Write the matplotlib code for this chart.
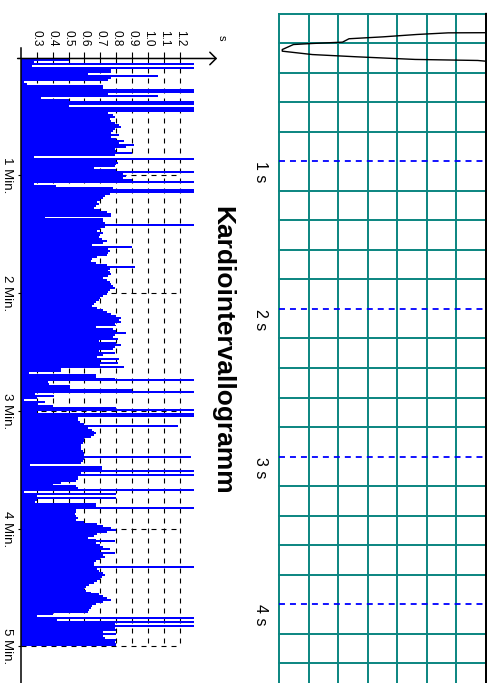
import matplotlib
matplotlib.use("Agg")
import matplotlib.pyplot as plt
import numpy as np

plt.rcParams['font.family'] = ['Liberation Sans', 'DejaVu Sans']
plt.rcParams['lines.scale_dashes'] = False

# --- Kardiointervallogramm data: RR interval (s) for each second of the 5 min record
rr_values = [
    0.50, 0.50, 0.28, 1.29, 0.27, 1.29, 0.77, 0.77, 0.62, 1.06,
    0.77, 0.75, 0.22, 0.24, 0.72, 0.72, 1.29, 1.29, 0.75, 1.06,
    0.33, 0.50, 1.29, 1.29, 0.50, 1.29, 1.29, 1.29, 0.75, 0.78,
    0.79, 0.76, 0.77, 0.79, 0.82, 0.83, 0.79, 0.78, 0.77, 0.82,
    0.77, 0.80, 0.85, 0.82, 0.91, 0.86, 0.79, 0.80, 0.90, 0.79,
    0.28, 1.29, 0.80, 0.81, 0.80, 0.79, 0.66, 0.80, 1.29, 0.84,
    0.86, 0.84, 0.90, 1.29, 0.28, 0.42, 0.78, 1.29, 1.29, 0.76,
    0.73, 0.72, 0.70, 0.68, 0.69, 0.67, 0.66, 0.70, 0.74, 0.77,
    0.77, 0.35, 0.72, 0.72, 0.73, 1.29, 0.73, 0.70, 0.68, 0.72,
    0.70, 0.69, 0.71, 0.74, 0.72, 0.65, 0.90, 0.75, 0.76, 0.75,
    0.74, 0.68, 0.65, 0.64, 0.67, 0.74, 0.92, 0.76, 0.75, 0.76,
    0.77, 0.75, 0.72, 0.74, 0.76, 0.77, 0.78, 0.79, 0.76, 0.75,
    0.74, 0.72, 0.70, 0.69, 0.67, 0.66, 0.65, 0.68, 0.72, 0.74,
    0.77, 0.80, 0.83, 0.82, 0.83, 0.79, 0.80, 0.67, 0.78, 0.80,
    0.86, 0.79, 0.78, 0.81, 0.69, 0.80, 0.83, 0.79, 0.78, 0.69,
    0.79, 0.72, 0.68, 0.82, 0.70, 0.81, 0.70, 0.85, 0.45, 0.45,
    0.25, 0.67, 0.67, 0.79, 1.29, 0.37, 0.38, 0.51, 0.51, 0.90,
    1.29, 0.29, 0.41, 0.30, 0.22, 0.35, 0.31, 0.40, 0.80, 1.29,
    0.30, 1.29, 1.29, 0.56, 0.56, 0.57, 0.60, 1.19, 0.62, 0.65,
    0.66, 0.67, 0.66, 0.64, 0.60, 0.60, 0.59, 0.58, 0.58, 0.58,
    0.59, 0.60, 0.60, 1.27, 0.60, 0.59, 0.58, 0.26, 0.71, 0.71,
    1.29, 0.58, 1.29, 0.56, 0.56, 0.55, 0.45, 0.40, 0.55, 0.56,
    1.29, 0.22, 0.80, 0.30, 0.80, 0.30, 0.29, 0.67, 0.67, 1.29,
    0.55, 0.55, 0.54, 0.55, 0.56, 0.55, 0.60, 0.68, 0.72, 0.77,
    0.80, 0.74, 0.68, 0.66, 0.62, 0.67, 0.79, 0.67, 0.70, 0.72,
    0.76, 0.70, 0.79, 0.72, 0.73, 0.70, 0.67, 0.66, 0.66, 1.29,
    0.68, 0.69, 0.72, 0.73, 0.71, 0.70, 0.68, 0.66, 0.63, 0.61,
    0.60, 0.61, 0.64, 0.69, 0.72, 0.74, 0.77, 0.72, 0.67, 0.65,
    0.64, 0.63, 0.62, 0.40, 0.30, 1.29, 0.43, 1.29, 0.79, 1.29,
    0.79, 0.80, 0.72, 0.80, 0.72, 0.73, 0.80, 0.79, 0.80, 0.80,
]
value_ticks = [0.3, 0.4, 0.5, 0.6, 0.7, 0.8, 0.9, 1.0, 1.1, 1.2]
value_labels = ['0.3', '0.4', '0.5', '0.6', '0.7', '0.8', '0.9', '1.0', '1.1', '1.2']
minute_ticks = [1, 2, 3, 4, 5]
minute_labels = ['1 Min.', '2 Min.', '3 Min.', '4 Min.', '5 Min.']
title = 'Kardiointervallogramm'

# --- ECG strip: time (s) and amplitude (mV)
ecg_time = [0.0, 0.130, 0.131, 0.142, 0.158, 0.171, 0.194, 0.203, 0.210, 0.244,
            0.255, 0.278, 0.293, 0.311, 0.318, 0.323, 4.6]
ecg_mv = [0.0, 0.0, -0.64, -1.17, -1.74, -2.32, -2.43, -2.94, -3.26, -3.45,
          -3.45, -2.94, -2.20, -1.20, -0.14, 0.0, 0.0]
second_marks = [1, 2, 3, 4]
second_labels = ['1 s', '2 s', '3 s', '4 s']

W, H = 496, 683
fig = plt.figure(figsize=(W / 100, H / 100), dpi=100)


def frac(left, top, right, bottom):
    # pixel box -> figure fraction
    return [left / W, 1 - bottom / H, (right - left) / W, (bottom - top) / H]


# ---------------- Kardiointervallogramm (drawn rotated) ----------------
ax = fig.add_axes(frac(20.8, 57.5, 219.55, 683))
ax.set_xlim(0.2, 1.45)
ax.set_ylim(318.6, 0)
for s in ax.spines.values():
    s.set_visible(False)

t = np.arange(len(rr_values))
ax.barh(t, np.array(rr_values) - 0.2, left=0.2, height=1.0, align='edge',
        color='#0000ff', linewidth=0, antialiased=False, zorder=2)

# dashed grid behind the bars
for v in value_ticks:
    ax.plot([v, v], [0, 300], color='black', lw=0.8, dashes=(3.6, 3.6), zorder=1)
for m in minute_ticks:
    ax.plot([0.2, 1.2], [m * 60, m * 60], color='black', lw=0.8,
            dashes=(3.6, 3.6), zorder=1)

# axes lines
ax.plot([0.2, 0.2], [-5, 318.6], color='black', lw=1.1, clip_on=False, zorder=3)
ax.annotate('', xy=(1.435, 0.5), xytext=(0.18, 0.5),
            arrowprops=dict(arrowstyle='->,head_length=0.45,head_width=0.45',
                            color='black', lw=1.1, shrinkA=0, shrinkB=0),
            annotation_clip=False, zorder=3)

ax.xaxis.tick_top()
ax.set_xticks(value_ticks)
ax.set_xticklabels(value_labels)
ax.tick_params(axis='x', direction='out', length=4.5, width=0.8, pad=3.5,
               labelsize=8.5, labelrotation=-90)
ax.set_yticks([m * 60 for m in minute_ticks])
ax.set_yticklabels(minute_labels)
ax.tick_params(axis='y', direction='out', length=2.2, width=0.8, pad=3.5,
               labelsize=9.5, labelrotation=-90)
for lab in ax.get_yticklabels():
    lab.set_va('center')

ax.text(1.464, -10.3, 's', rotation=-90, fontsize=8, ha='center', va='center',
        clip_on=False)
fig.text(222 / W, 1 - 350 / H, title, rotation=-90, fontsize=19,
         fontweight='bold', ha='center', va='center')

# ---------------- ECG strip ----------------
teal = '#0a8580'
ax2 = fig.add_axes(frac(279.3, 13.5, 486, 683))
t_end = (683 - 13.5) / 147.7
ax2.set_xlim(-3.5, 0)
ax2.set_ylim(t_end, 0)
ax2.axis('off')

for x in np.arange(-3.5, 0.01, 0.5):
    ax2.axvline(x, color=teal, lw=1.4, clip_on=False, zorder=1)
for k in range(int(t_end / 0.2) + 1):
    if k % 5 != 0 or k == 0:
        ax2.axhline(k * 0.2, color=teal, lw=1.4, clip_on=False, zorder=1)
for s_mark, s_lab in zip(second_marks, second_labels):
    ax2.axhline(s_mark, color='#0000ff', lw=1.3, dashes=(4.3, 3.6), zorder=2)
    ax2.text(-3.82, s_mark, s_lab, rotation=-90, fontsize=11.5, ha='center',
             va='top', clip_on=False)

ax2.axvline(0, color='black', lw=1.4, clip_on=False, zorder=3)
ax2.plot(ecg_mv, ecg_time, color='black', lw=1.0, clip_on=False, zorder=4)

fig.savefig('out.png', dpi=100, facecolor='white')
